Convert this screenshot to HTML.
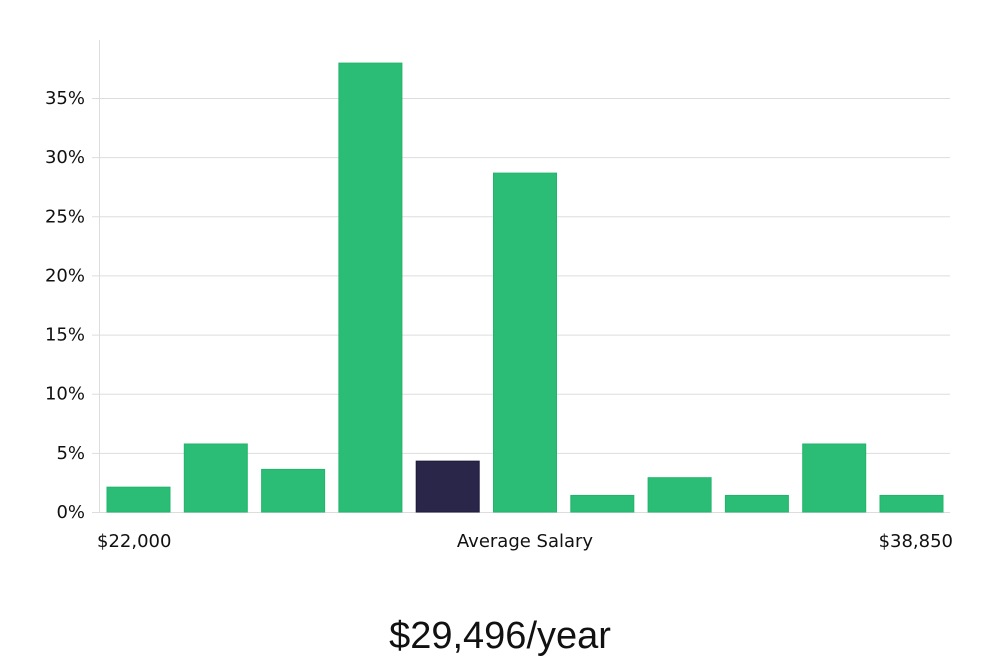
<!DOCTYPE html>
<html><head><meta charset="utf-8"><style>
body{margin:0;background:#fff;width:1000px;height:660px;overflow:hidden;font-family:"DejaVu Sans","Liberation Sans",sans-serif;}
</style></head><body>
<svg width="1000" height="660">
<g id="grid"></g>
<g id="bars"></g>
<line x1="99.5" y1="40" x2="99.5" y2="512" stroke="#ddd"/>
<text x="97" y="547" font-size="18" fill="#111">$22,000</text>
<text x="525" y="547" font-size="18" fill="#111" text-anchor="middle">Average Salary</text>
<text x="953" y="547" font-size="18" fill="#111" text-anchor="end">$38,850</text>
<text x="500" y="648" font-size="38" fill="#111" text-anchor="middle" font-family="'Liberation Sans Narrow','Liberation Sans',sans-serif">$29,496/year</text>
</svg>
<script>
const values=[2.1,5.75,3.6,37.95,4.3,28.65,1.4,2.9,1.4,5.75,1.4];
const highlight=[false,false,false,false,true,false,false,false,false,false,false];
const ticks=[0,5,10,15,20,25,30,35];
const tickLabels=["0%","5%","10%","15%","20%","25%","30%","35%"];
const NS="http://www.w3.org/2000/svg";
const y=v=>512-v*(414/35);
const x=i=>107+i*77.3;
const g=document.getElementById('grid'),b=document.getElementById('bars');
ticks.forEach((t,i)=>{
 const l=document.createElementNS(NS,'line');
 
 
 l.setAttribute('x1',92);l.setAttribute('x2',950);l.setAttribute('y1',y(t)+0.5);l.setAttribute('y2',y(t)+0.5);
 l.setAttribute('stroke','#ddd');g.appendChild(l);
 const tx=document.createElementNS(NS,'text');
 
 
 tx.setAttribute('x',85);tx.setAttribute('y',y(t)+6);tx.setAttribute('text-anchor','end');
 tx.setAttribute('font-size','18');tx.setAttribute('fill','#111');tx.textContent=tickLabels[i];g.appendChild(tx);
});
values.forEach((v,i)=>{
 const r=document.createElementNS(NS,'rect');
 
 
 r.setAttribute('x',x(i));r.setAttribute('y',y(v));r.setAttribute('width',63);r.setAttribute('height',512-y(v));
 r.setAttribute('fill',highlight[i]?'#29264a':'#2bbd75');
 r.setAttribute('stroke',highlight[i]?'#1d1a38':'#22b56a');
 b.appendChild(r);
});
</script>
</body></html>
